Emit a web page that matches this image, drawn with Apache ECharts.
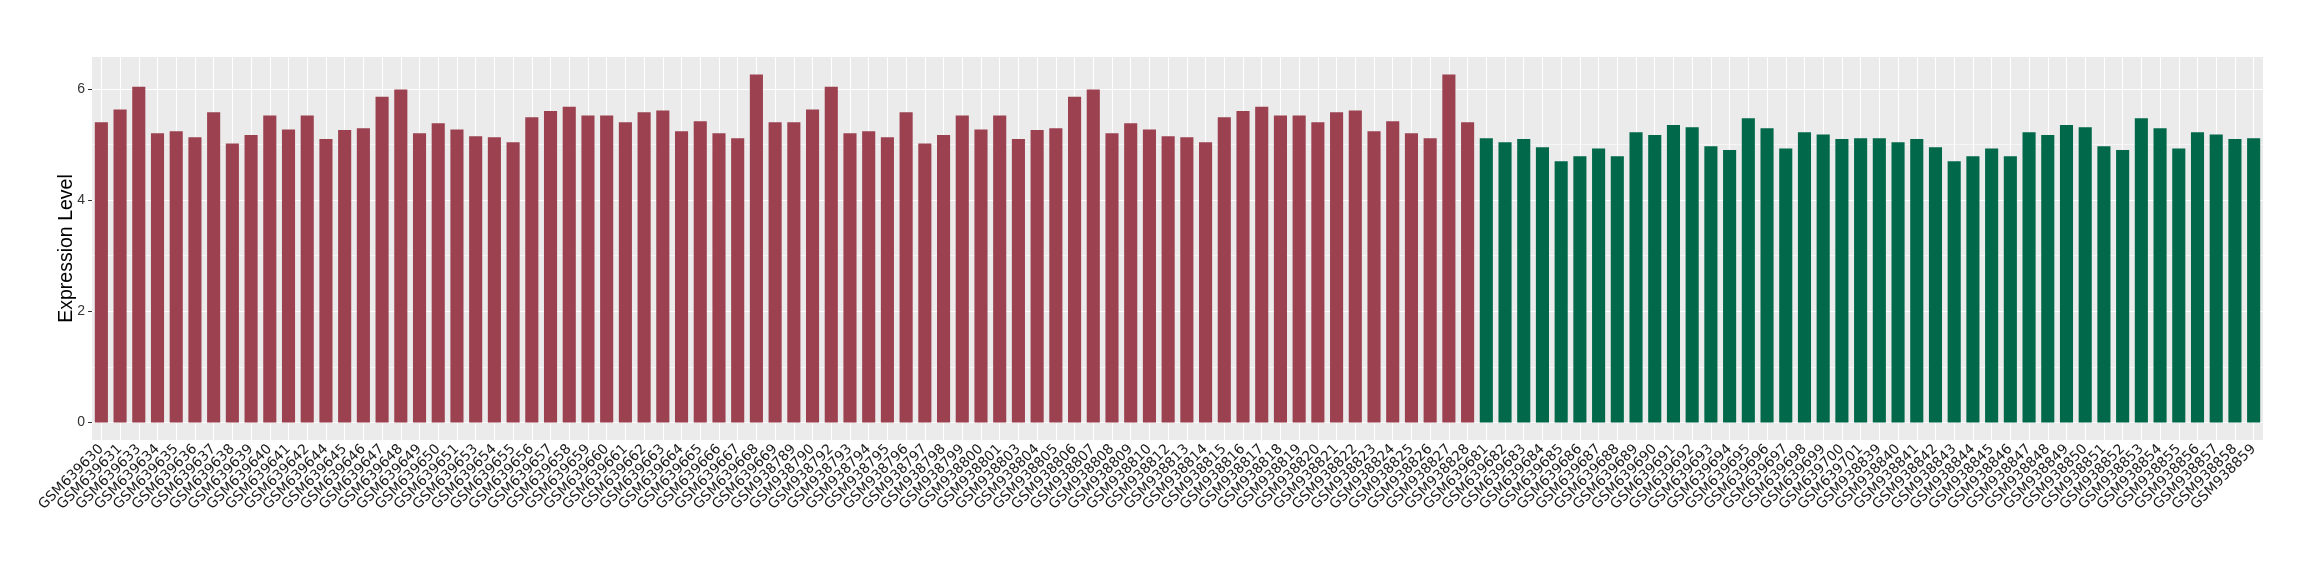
<!DOCTYPE html>
<html>
<head>
<meta charset="utf-8">
<script src="https://cdn.jsdelivr.net/npm/echarts@6/dist/echarts.min.js"></script>
<style>
html,body{margin:0;padding:0;background:#fff;}
#chart{width:2320px;height:580px;}
</style>
</head>
<body>
<div id="chart"></div>
<script>
// ---- data ----
const redSamples = [
  'GSM639630','GSM639631','GSM639633','GSM639634','GSM639635','GSM639636','GSM639637','GSM639638','GSM639639','GSM639640',
  'GSM639641','GSM639642','GSM639644','GSM639645','GSM639646','GSM639647','GSM639648','GSM639649','GSM639650','GSM639651',
  'GSM639653','GSM639654','GSM639655','GSM639656','GSM639657','GSM639658','GSM639659','GSM639660','GSM639661','GSM639662',
  'GSM639663','GSM639664','GSM639665','GSM639666','GSM639667','GSM639668','GSM639669',
  'GSM938789','GSM938790','GSM938792','GSM938793','GSM938794','GSM938795','GSM938796','GSM938797','GSM938798','GSM938799',
  'GSM938800','GSM938801','GSM938803','GSM938804','GSM938805','GSM938806','GSM938807','GSM938808','GSM938809','GSM938810',
  'GSM938812','GSM938813','GSM938814','GSM938815','GSM938816','GSM938817','GSM938818','GSM938819','GSM938820','GSM938821',
  'GSM938822','GSM938823','GSM938824','GSM938825','GSM938826','GSM938827','GSM938828'
];
const redValues = [
  5.40,5.63,6.04,5.20,5.24,5.13,5.58,5.02,5.17,5.52,
  5.27,5.52,5.10,5.26,5.29,5.86,5.99,5.20,5.38,5.27,
  5.15,5.13,5.04,5.49,5.60,5.68,5.52,5.52,5.40,5.58,
  5.61,5.24,5.42,5.20,5.11,6.26,5.40,
  5.40,5.63,6.04,5.20,5.24,5.13,5.58,5.02,5.17,5.52,
  5.27,5.52,5.10,5.26,5.29,5.86,5.99,5.20,5.38,5.27,
  5.15,5.13,5.04,5.49,5.60,5.68,5.52,5.52,5.40,5.58,
  5.61,5.24,5.42,5.20,5.11,6.26,5.40
];
const greenSamples = [
  'GSM639681','GSM639682','GSM639683','GSM639684','GSM639685','GSM639686','GSM639687','GSM639688','GSM639689','GSM639690',
  'GSM639691','GSM639692','GSM639693','GSM639694','GSM639695','GSM639696','GSM639697','GSM639698','GSM639699','GSM639700','GSM639701',
  'GSM938839','GSM938840','GSM938841','GSM938842','GSM938843','GSM938844','GSM938845','GSM938846','GSM938847','GSM938848',
  'GSM938849','GSM938850','GSM938851','GSM938852','GSM938853','GSM938854','GSM938855','GSM938856','GSM938857','GSM938858','GSM938859'
];
const greenValues = [
  5.11,5.04,5.10,4.95,4.70,4.79,4.93,4.79,5.22,5.17,
  5.35,5.31,4.97,4.90,5.47,5.29,4.93,5.22,5.18,5.10,5.11,
  5.11,5.04,5.10,4.95,4.70,4.79,4.93,4.79,5.22,5.17,
  5.35,5.31,4.97,4.90,5.47,5.29,4.93,5.22,5.18,5.10,5.11
];
const yTickValues = [0, 2, 4, 6];
const yMinorValues = [1, 3, 5];
const yAxisTitle = 'Expression Level';

// ---- build ----
const RED = '#9B4150';
const GREEN = '#01694A';
const categories = redSamples.concat(greenSamples);
const barData = redValues.map(v => ({value: v, itemStyle: {color: RED}}))
  .concat(greenValues.map(v => ({value: v, itemStyle: {color: GREEN}})));
const allValues = redValues.concat(greenValues);
const vmax = Math.max.apply(null, allValues);
const yMin = -0.05 * vmax;
const yMax = vmax * 1.05;

const gridLines = []
  .concat(categories.map(c => ({xAxis: c, lineStyle: {color: '#ffffff', width: 1.1, type: 'solid'}})))
  .concat(yTickValues.map(v => ({yAxis: v, lineStyle: {color: '#ffffff', width: 1.1, type: 'solid'}})))
  .concat(yMinorValues.map(v => ({yAxis: v, lineStyle: {color: '#ffffff', width: 0.55, type: 'solid'}})));

const chart = echarts.init(document.getElementById('chart'), null, {renderer: 'canvas'});
chart.setOption({
  animation: false,
  backgroundColor: '#ffffff',
  grid: {
    left: 92, right: 57, top: 57, bottom: 140,
    show: true, backgroundColor: '#EBEBEB', borderWidth: 0
  },
  xAxis: {
    type: 'category',
    data: categories,
    axisLine: {show: false},
    axisTick: {show: true, alignWithLabel: true, length: 4, lineStyle: {color: '#333333', width: 1}},
    axisLabel: {
      interval: 0, rotate: 45, margin: 7,
      fontFamily: 'DejaVu Sans', fontSize: 14, color: '#1a1a1a'
    },
    splitLine: {show: false}
  },
  yAxis: {
    type: 'value',
    min: yMin, max: yMax,
    name: yAxisTitle,
    nameLocation: 'middle',
    nameRotate: 90,
    nameGap: 15,
    nameMoveOverlap: false,
    nameTextStyle: {fontFamily: 'Liberation Sans', fontSize: 19.5, color: '#000000'},
    axisLine: {show: false},
    axisTick: {show: true, length: 4, customValues: yTickValues, lineStyle: {color: '#333333', width: 1}},
    axisLabel: {customValues: yTickValues, margin: 7, fontFamily: 'Liberation Sans', fontSize: 14, color: '#333333'},
    splitLine: {show: false},
    minorSplitLine: {show: false}
  },
  series: [{
    type: 'bar',
    data: barData,
    barCategoryGap: '30%',
    z: 2,
    markLine: {
      silent: true,
      z: 1,
      symbol: 'none',
      label: {show: false},
      emphasis: {disabled: true},
      animation: false,
      data: gridLines
    }
  }]
});
</script>
</body>
</html>
